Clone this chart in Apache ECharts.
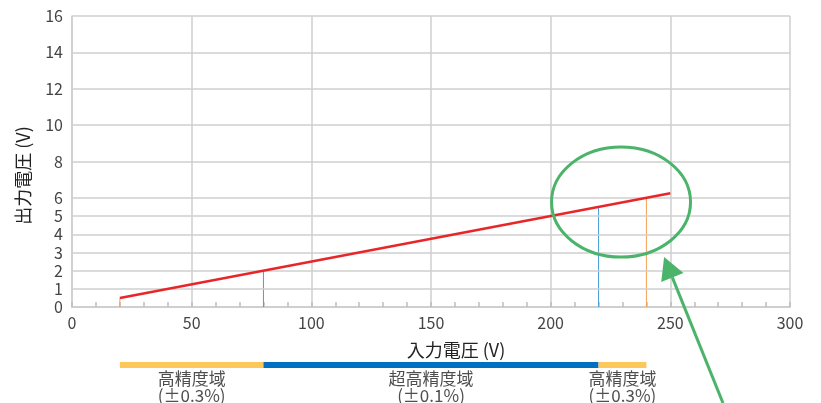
<!DOCTYPE html>
<html>
<head>
<meta charset="utf-8">
<script src="https://cdn.jsdelivr.net/npm/echarts@6/dist/echarts.min.js"></script>
<style>
html,body{margin:0;padding:0;background:#fff;}
#c{width:821px;height:403px;}
</style>
</head>
<body>
<div id="c"></div>
<script>
// ---- data ----
const xTicks = [0, 50, 100, 150, 200, 250, 300];
const yTicks = [0, 1, 2, 3, 4, 5, 6, 8, 10, 12, 14, 16];
const lineX = [20, 250];
const lineY = [0.5, 6.25];
const markerX = [20, 80, 220, 240];
const markerY = [0.5, 2, 5.5, 6];
const zoneStart = [20, 80, 220];
const zoneEnd = [80, 220, 240];
const zoneName = ['高精度域', '超高精度域', '高精度域'];
const zoneAcc = ['(±0.3%)', '(±0.1%)', '(±0.3%)'];
const xName = '入力電圧 (V)';
const yName = '出力電圧 (V)';
// annotation (data units)
const ellipseCenter = [229.4, 5.77];
const arrowTail = [272, -5.28];
const arrowTip = [247.4, 2.75];

// ---- styles ----
const FONT = 'Noto Sans CJK JP';
const markerColors = ['#f5a04f', '#4a9fd8', '#4a9fd8', '#f5a04f'];
const zoneColors = ['#fcc85a', '#0070c0', '#fcc85a'];
const gridColor = '#cfcfcf';
const green = '#4cb46a';

const chart = echarts.init(document.getElementById('c'));

const series = [];
// horizontal grid lines at tick values
series.push({
  type: 'line', xAxisIndex: 0, yAxisIndex: 0, data: [], z: 1, silent: true,
  markLine: {
    silent: true, symbol: 'none', animation: false,
    label: {show: false},
    lineStyle: {color: gridColor, width: 1.5, type: 'solid'},
    data: yTicks.filter(v => v > 0).map(v => ({yAxis: v}))
  }
});
// vertical marker lines
markerX.forEach((x, i) => {
  series.push({
    type: 'line', xAxisIndex: 0, yAxisIndex: 0, z: 3,
    data: [[x, 0], [x, markerY[i]]],
    symbol: 'none', silent: true, animation: false,
    lineStyle: {color: markerColors[i], width: 1}
  });
});
// main red line
series.push({
  type: 'line', xAxisIndex: 0, yAxisIndex: 0, z: 5,
  data: lineX.map((x, i) => [x, lineY[i]]),
  symbol: 'none', silent: true, animation: false,
  lineStyle: {color: '#e8262a', width: 2.5}
});
// zone bars
zoneStart.forEach((s, i) => {
  series.push({
    type: 'line', xAxisIndex: 1, yAxisIndex: 1,
    data: [[s, 0], [zoneEnd[i], 0]],
    symbol: 'none', silent: true, animation: false,
    lineStyle: {color: zoneColors[i], width: 6, cap: 'butt'}
  });
});
// zone labels
series.push({
  type: 'scatter', xAxisIndex: 1, yAxisIndex: 1, symbolSize: 0, silent: true, animation: false,
  data: zoneStart.map((s, i) => ({value: [(s + zoneEnd[i]) / 2, 0], name: zoneName[i] + '\n' + zoneAcc[i]})),
  label: {
    show: true, position: 'bottom', distance: 5,
    formatter: p => p.name,
    fontFamily: FONT, fontSize: 17, lineHeight: 17, color: '#222', align: 'center'
  }
});

chart.setOption({
  animation: false,
  backgroundColor: '#fff',
  textStyle: {fontFamily: FONT},
  grid: [
    {left: 72, right: 31, top: 16, bottom: 96},
    {left: 72, right: 31, top: 360, height: 5}
  ],
  xAxis: [
    {
      type: 'value', gridIndex: 0, min: 0, max: 300, interval: 50,
      name: xName, nameLocation: 'middle', nameGap: 34,
      nameTextStyle: {fontFamily: FONT, fontSize: 18, color: '#222', padding: [0, 0, 0, 50]},
      axisLine: {show: true, lineStyle: {color: gridColor, width: 2}},
      axisTick: {show: true, inside: true, length: 5, lineStyle: {color: '#bdbdbd', width: 1.5}},
      minorTick: {show: true, splitNumber: 5, length: 5, lineStyle: {color: '#bdbdbd', width: 1.5}},
      axisLabel: {fontFamily: FONT, fontSize: 16, color: '#444', margin: 8},
      splitLine: {show: true, lineStyle: {color: gridColor, width: 1.5}}
    },
    {type: 'value', gridIndex: 1, min: 0, max: 300, show: false}
  ],
  yAxis: [
    {
      type: 'value', gridIndex: 0, min: 0, max: 16, interval: 1,
      name: yName, nameLocation: 'middle', nameGap: 40,
      nameTextStyle: {fontFamily: FONT, fontSize: 18, color: '#222', padding: [0, 28, 0, 0]},
      axisLine: {show: true, lineStyle: {color: gridColor, width: 1.5}},
      axisTick: {show: false},
      axisLabel: {fontFamily: FONT, fontSize: 16, color: '#444', margin: 9, customValues: yTicks},
      splitLine: {show: false}
    },
    {type: 'value', gridIndex: 1, min: 0, max: 1, show: false}
  ],
  series: series
});

function drawAnnotations() {
  const c = chart.convertToPixel({gridIndex: 0}, ellipseCenter);
  const tail = chart.convertToPixel({gridIndex: 0}, arrowTail);
  const tip = chart.convertToPixel({gridIndex: 0}, arrowTip);
  const dx = tip[0] - tail[0], dy = tip[1] - tail[1];
  const len = Math.sqrt(dx * dx + dy * dy);
  const ux = dx / len, uy = dy / len;
  const L = 22, hw = 12;
  const bx = tip[0] - ux * L, by = tip[1] - uy * L;
  const px = -uy, py = ux;
  chart.setOption({
    graphic: [
      {type: 'ellipse', shape: {cx: c[0], cy: c[1], rx: 69.5, ry: 55}, style: {fill: 'none', stroke: green, lineWidth: 3}, z: 100, silent: true},
      {type: 'line', shape: {x1: tail[0], y1: tail[1], x2: bx, y2: by}, style: {stroke: green, lineWidth: 3}, z: 100, silent: true},
      {type: 'polygon', shape: {points: [tip, [bx + px * hw, by + py * hw], [bx - px * hw, by - py * hw]]}, style: {fill: green}, z: 100, silent: true}
    ]
  });
}
drawAnnotations();
</script>
</body>
</html>
